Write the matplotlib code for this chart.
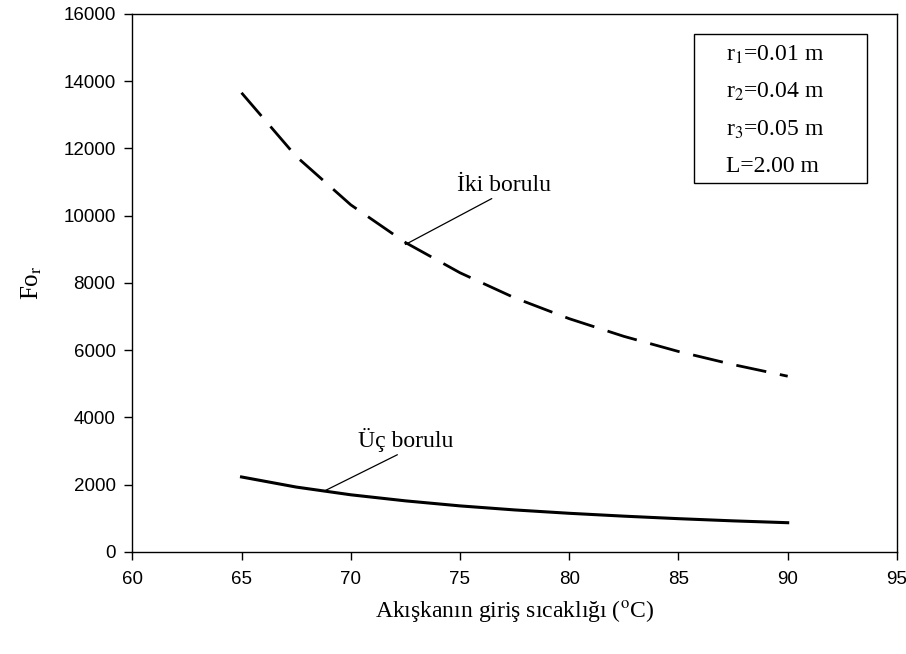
import matplotlib.pyplot as plt
from matplotlib.patches import Rectangle

# inlet temperature (C) and Fo_r for the two pipe layouts
temps = [65, 67.5, 70, 72.5, 75, 77.5, 80, 82.5, 85, 87.5, 90]
iki_borulu = [13650, 11760, 10320, 9200, 8300, 7555, 6935, 6410, 5960, 5570, 5225]
uc_borulu = [2230, 1930, 1700, 1520, 1370, 1250, 1150, 1065, 990, 925, 870]

params = [r"r$_1$=0.01 m", r"r$_2$=0.04 m", r"r$_3$=0.05 m", "L=2.00 m"]

plt.rcParams['mathtext.fontset'] = 'stix'
SERIF = 'Liberation Serif'
SANS = 'Liberation Sans'

fig = plt.figure(figsize=(9.06, 6.54), dpi=100)
ax = fig.add_axes([0.146, 0.156, 0.844, 0.823])

ax.plot(temps, iki_borulu, color='black', lw=2.0, dashes=(11, 5), solid_capstyle='butt')
ax.plot(temps, uc_borulu, color='black', lw=2.2)

ax.set_xlim(60, 95)
ax.set_ylim(0, 16000)
ax.set_xticks(range(60, 96, 5))
ax.set_yticks(range(0, 16001, 2000))
ax.tick_params(direction='out', length=6, width=1, labelsize=13.5)
ax.tick_params(axis='x', pad=8)
ax.tick_params(axis='y', pad=6)
for lbl in ax.get_xticklabels() + ax.get_yticklabels():
    lbl.set_family(SANS)
for s in ax.spines.values():
    s.set_linewidth(1)

ax.set_xlabel(r"Akışkanın giriş sıcaklığı ($^{\rm o}$C)", family=SERIF, fontsize=17, labelpad=7)
ax.set_ylabel(r"Fo$_{\rm r}$", family=SERIF, fontsize=18, labelpad=14)

# curve labels with leader lines
ax.annotate("İki borulu", xy=(72.5, 9140), xytext=(77.0, 10900),
            ha='center', va='center', family=SERIF, fontsize=17,
            arrowprops=dict(arrowstyle='-', color='black', lw=0.9,
                            shrinkA=0, shrinkB=0, relpos=(0.45, 0.05)))
ax.annotate("Üç borulu", xy=(68.8, 1815), xytext=(72.5, 3330),
            ha='center', va='center', family=SERIF, fontsize=17,
            arrowprops=dict(arrowstyle='-', color='black', lw=0.9,
                            shrinkA=0, shrinkB=0, relpos=(0.5, 0.05)))

# parameter box
ax.add_patch(Rectangle((0.734, 0.686), 0.227, 0.276, transform=ax.transAxes,
                       fill=False, ec='black', lw=1))
for i, txt in enumerate(params):
    ax.text(0.776, 0.924 - i * 0.0695, txt, transform=ax.transAxes,
            ha='left', va='center', family=SERIF, fontsize=17)

fig.savefig("out.png", dpi=100)
